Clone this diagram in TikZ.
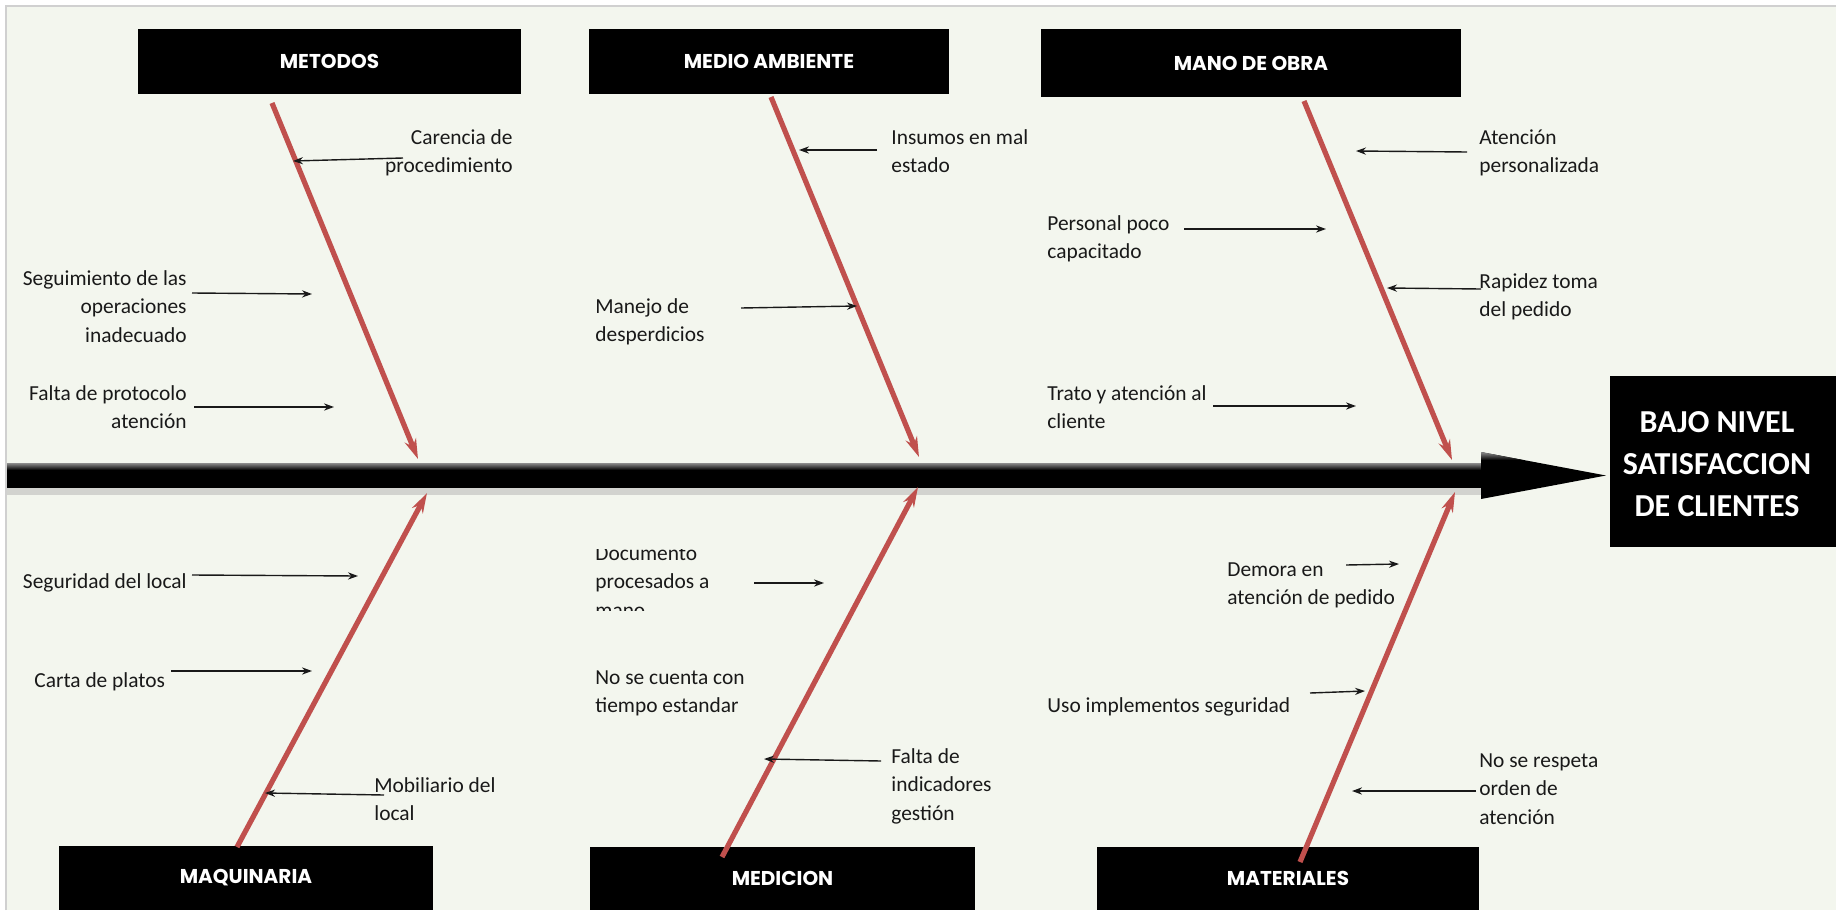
\documentclass[tikz,border=0pt]{standalone}
\usepackage{fontspec}
\setmainfont{Carlito}
\newfontfamily\titlefont{Poppins}
\usetikzlibrary{arrows.meta}
\definecolor{paper}{RGB}{243,246,238}
\definecolor{bone}{RGB}{192,80,77}
\definecolor{frameline}{RGB}{208,208,208}
\begin{document}
\begin{tikzpicture}[x=0.5pt,y=-0.5pt,
  catbox/.style={fill=black, text=white, inner sep=0pt,
    font=\titlefont\bfseries\fontsize{10}{12}\selectfont},
  effectbox/.style={fill=black, text=white, inner sep=0pt, align=center,
    font=\bfseries\fontsize{16}{21}\selectfont},
  causeR/.style={inner sep=0pt, align=right, anchor=base east,
    font=\fontsize{10.7}{14.25}\selectfont, text=black!90},
  causeL/.style={inner sep=0pt, align=left, anchor=base west,
    font=\fontsize{10.7}{14.25}\selectfont, text=black!90},
  bonearrow/.style={draw=bone, line width=2.6pt, -{Stealth[length=10pt,width=6pt]}},
  hint/.style={draw=black!90, line width=0.7pt, -{Stealth[length=5pt,width=3.6pt]}}
]
\useasboundingbox (0,0) rectangle (1836,910);
% sheet
\fill[white] (0,0) rectangle (1836,910);
\fill[paper] (6,6) rectangle (1836,910);
\draw[frameline, line width=0.8pt] (6,910) -- (6,6) -- (1836,6);

% category boxes
\node[catbox, minimum width=191.5pt, minimum height=32.5pt] (metodos) at (329.5,61.5) {METODOS};
\node[catbox, minimum width=180pt, minimum height=32.5pt] (medio) at (769,61.5) {MEDIO AMBIENTE};
\node[catbox, minimum width=210pt, minimum height=34pt] (mano) at (1251,63) {MANO DE OBRA};
\node[catbox, minimum width=187pt, minimum height=32pt] (maq) at (246,878) {MAQUINARIA};
\node[catbox, minimum width=192.5pt, minimum height=31.5pt] (medicion) at (782.5,878.5) {MEDICION};
\node[catbox, minimum width=191pt, minimum height=31.5pt] (materiales) at (1288,878.5) {MATERIALES};

% effect box
\node[fill=black, minimum width=113pt, minimum height=85.5pt, inner sep=0pt] (effect) at (1723,461.5) {};
\node[effectbox] (effecttext) at (1717,464) {BAJO NIVEL\\SATISFACCION\\DE CLIENTES};

% spine with a soft shadow and a light upper rim
\fill[black!30, opacity=0.5] (7,488) rectangle (1481,495);
\fill[black] (7,463) rectangle (1481,488);
\shade[top color=black!45, bottom color=black] (7,463) rectangle (1481,470);
\coordinate (spineend) at (1481,475.5);
\coordinate (spinetip) at (1606,475.5);
\fill[black] (1481,452) -- (spinetip) -- (1481,499) -- cycle;
\shade[top color=black!45, bottom color=black] (1481,452) -- (1523,460) -- (1481,460) -- cycle;

% bone ends
\coordinate (b1s) at (272,103);  \coordinate (b1e) at (418,459);
\coordinate (b2s) at (771,97);   \coordinate (b2e) at (919,457);
\coordinate (b3s) at (1304,101); \coordinate (b3e) at (1452,460);
\coordinate (b4s) at (237,847);  \coordinate (b4e) at (427,493);
\coordinate (b5s) at (722,857);  \coordinate (b5e) at (918,487);
\coordinate (b6s) at (1300,862); \coordinate (b6e) at (1455,492);
\draw[bonearrow] (b1s) -- (b1e);
\draw[bonearrow] (b2s) -- (b2e);
\draw[bonearrow] (b3s) -- (b3e);
\draw[bonearrow] (b4s) -- (b4e);
\draw[bonearrow] (b5s) -- (b5e);
\draw[bonearrow] (b6s) -- (b6e);

% causes (anchored at the baseline of the last line)
% METODOS
\node[causeR] (c1) at (513,172.5) {Carencia de\\procedimiento};
\node[causeR] (c2) at (187,342) {Seguimiento de las\\operaciones\\inadecuado};
\node[causeR] (c3) at (187,428.5) {Falta de protocolo\\atención};
% MEDIO AMBIENTE
\node[causeL] (c4) at (891,172.5) {Insumos en mal\\estado};
\node[causeL] (c5) at (595,341.5) {Manejo de\\desperdicios};
% MANO DE OBRA
\node[causeL] (c6) at (1479,172.5) {Atención\\personalizada};
\node[causeL] (c7) at (1047,258.5) {Personal poco\\capacitado};
\node[causeL] (c8) at (1479,316.5) {Rapidez toma\\del pedido};
\node[causeL] (c9) at (1047,428.5) {Trato y atención al\\cliente};
% MAQUINARIA
\node[causeR] (c10) at (187,588) {Seguridad del local};
\node[causeL] (c11) at (34,687) {Carta de platos};
\node[causeL] (c12) at (374,820.5) {Mobiliario del\\local};
% MEDICION
\begin{scope}
  \clip (590,549) rectangle (750,610);
  \node[causeL] (c13) at (595,617) {Documento\\procesados a\\mano};
\end{scope}
\node[causeL] (c14) at (595,712.5) {No se cuenta con\\tiempo estandar};
\node[causeL] (c15) at (891,820) {Falta de\\indicadores\\gestión};
% MATERIALES
\node[causeL] (c16) at (1227,604.5) {Demora en\\atención de pedido};
\node[causeL] (c17) at (1047,712) {Uso implementos seguridad};
\node[causeL] (c18) at (1479,824) {No se respeta\\orden de\\atención};

% cause arrows
\coordinate (a1s) at (403,158);  \coordinate (a1e) at (293,161);
\coordinate (a2s) at (192,293);  \coordinate (a2e) at (312,294);
\coordinate (a3s) at (194,407);  \coordinate (a3e) at (334,407);
\coordinate (a4s) at (877,150);  \coordinate (a4e) at (799,150);
\coordinate (a5s) at (741,308);  \coordinate (a5e) at (857,306);
\coordinate (a6s) at (1467,152); \coordinate (a6e) at (1356,151);
\coordinate (a7s) at (1184,229); \coordinate (a7e) at (1326,229);
\coordinate (a8s) at (1481,289); \coordinate (a8e) at (1387,288);
\coordinate (a9s) at (1213,406); \coordinate (a9e) at (1356,406);
\coordinate (a10s) at (192,575); \coordinate (a10e) at (358,576);
\coordinate (a11s) at (171,671); \coordinate (a11e) at (312,671);
\coordinate (a12s) at (384,795); \coordinate (a12e) at (265,793);
\coordinate (a13s) at (754,583); \coordinate (a13e) at (824,583);
\coordinate (a14s) at (881,761); \coordinate (a14e) at (764,759);
\coordinate (a15s) at (1346,565); \coordinate (a15e) at (1399,564);
\coordinate (a16s) at (1310,693); \coordinate (a16e) at (1365,691);
\coordinate (a17s) at (1476,791); \coordinate (a17e) at (1352,791);
\foreach \i in {1,...,17} {\draw[hint] (a\i s) -- (a\i e);}
\end{tikzpicture}
\end{document}
